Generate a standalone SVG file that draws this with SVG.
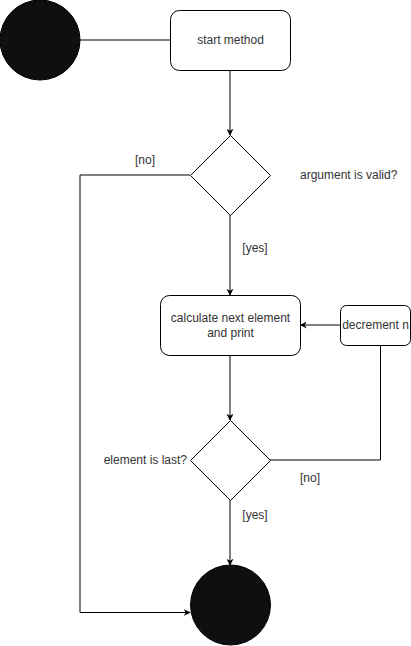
<svg xmlns="http://www.w3.org/2000/svg" width="411" height="646" viewBox="0 0 411 646">
<style>
.box{fill:#fff;stroke:#000;stroke-width:1}
.dot{fill:#0f0f0f;stroke:#000;stroke-width:1}
.ln{fill:none;stroke:#000;stroke-width:1}
text{font-family:"Liberation Sans",Arial,sans-serif;font-size:12px;fill:#333}
.c{text-anchor:middle}
</style>
<defs>
<marker id="ar" viewBox="0 0 10 10" refX="9" refY="5" markerWidth="7" markerHeight="7" markerUnits="userSpaceOnUse" orient="auto">
<path d="M0,0 L10,5 L0,10 L3,5 Z" fill="#000"/>
</marker>
</defs>
<rect width="411" height="646" fill="#fff"/>
<g id="connectors">
<path class="ln" d="M80,40 H170"/>
<path class="ln" d="M230,70 V135" marker-end="url(#ar)"/>
<path class="ln" d="M190,175 H80 V612.5 H190" marker-end="url(#ar)"/>
<path class="ln" d="M230,215 V295" marker-end="url(#ar)"/>
<path class="ln" d="M340,325 H300.5" marker-end="url(#ar)"/>
<path class="ln" d="M230,355 V420" marker-end="url(#ar)"/>
<path class="ln" d="M270,460 H380.5 V345"/>
<path class="ln" d="M230,500 V565" marker-end="url(#ar)"/>
<text x="145" y="164" class="c">[no]</text>
<text x="255" y="252" class="c">[yes]</text>
<text x="310" y="482" class="c">[no]</text>
<text x="255" y="519" class="c">[yes]</text>
</g>
<g id="start"><circle class="dot" cx="40" cy="40" r="40"/></g>
<g id="start-method">
<rect class="box" x="170.5" y="10.5" width="120" height="60" rx="9"/>
<text x="230.5" y="44" class="c">start method</text>
</g>
<g id="valid">
<path class="box" d="M230.5,135.5 L270.5,175.5 L230.5,215.5 L190.5,175.5 Z"/>
<text x="300" y="179">argument is valid?</text>
</g>
<g id="calc">
<rect class="box" x="160.5" y="295.5" width="140" height="60" rx="9"/>
<text x="230.5" y="322" class="c">calculate next element</text>
<text x="230.5" y="337" class="c">and print</text>
</g>
<g id="decrement">
<rect class="box" x="340.5" y="305.5" width="70" height="40" rx="6"/>
<text x="375.5" y="329" class="c">decrement n</text>
</g>
<g id="last">
<path class="box" d="M230.5,420.5 L270.5,460.5 L230.5,500.5 L190.5,460.5 Z"/>
<text x="187" y="464" text-anchor="end">element is last?</text>
</g>
<g id="end"><circle class="dot" cx="230.5" cy="605" r="40"/></g>
</svg>
